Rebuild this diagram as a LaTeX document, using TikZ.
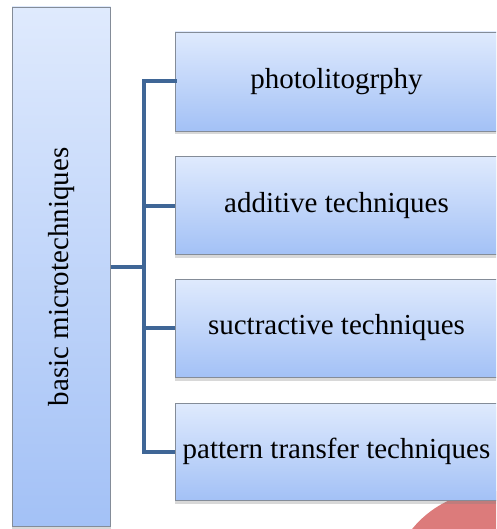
\documentclass[tikz,border=0pt]{standalone}
\usepackage{fontspec}
\setmainfont{Liberation Serif}
\usetikzlibrary{shadows}
\definecolor{boxtop}{HTML}{DFEAFD}
\definecolor{boxbot}{HTML}{A3C1F6}
\definecolor{boxline}{HTML}{848C98}
\definecolor{conn}{HTML}{3F6696}
\definecolor{redshape}{HTML}{DC7B7B}
\tikzset{
  gbox/.style={draw=boxline, line width=0.9pt, top color=boxtop, bottom color=boxbot,
    inner sep=0pt, outer sep=0pt,
    drop shadow={opacity=0.3, shadow xshift=0pt, shadow yshift=-3.5pt},
    font=\fontsize{29}{34}\selectfont, text=black},
  connline/.style={draw=conn, line width=4pt}
}
\begin{document}
\begin{tikzpicture}[x=1pt, y=-1pt]
\useasboundingbox (0,0) rectangle (496,529);
\clip (0,0) rectangle (496,529);
\fill[white] (0,0) rectangle (496,529);
% red shape at bottom right
\fill[redshape] (492,594) circle (103);
% left box
\node[gbox, minimum width=98.5pt, minimum height=519pt] (root) at (61.25,266.5) {};
\node[rotate=90, font=\fontsize{29}{34}\selectfont] (rootlbl) at (61.25,277) {basic microtechniques};
% right boxes
\node[gbox, minimum width=323pt, minimum height=99pt] (b1) at (336.5,81.5) {photolitogrphy};
\node[gbox, minimum width=323pt, minimum height=98pt] (b2) at (336.5,205.5) {additive techniques};
\node[gbox, minimum width=323pt, minimum height=98pt] (b3) at (336.5,328) {suctractive techniques};
\node[gbox, minimum width=323pt, minimum height=97pt] (b4) at (336.5,451.5) {pattern transfer techniques};
% connectors
\coordinate (trunk) at (144,267);
\draw[connline] (root.east |- trunk) -- (trunk);
\draw[connline, line cap=rect] (b1.west) -| (trunk);
\draw[connline] (trunk) |- (b2.west);
\draw[connline] (trunk) |- (b3.west);
\draw[connline] (trunk) |- (b4.west);
\end{tikzpicture}
\end{document}
